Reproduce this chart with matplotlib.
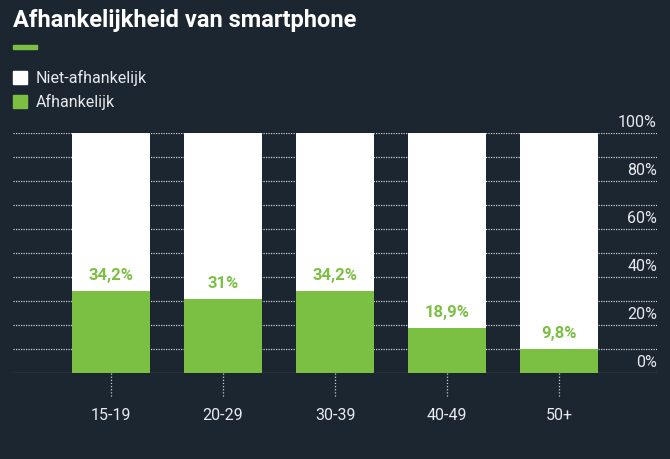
import matplotlib.pyplot as plt
from matplotlib.patches import Patch, Rectangle

# data
categories = ['15-19', '20-29', '30-39', '40-49', '50+']
afhankelijk = [34.2, 31.0, 34.2, 18.9, 9.8]
value_labels = ['34,2%', '31%', '34,2%', '18,9%', '9,8%']
grid_levels = [0, 10, 20, 30, 40, 50, 60, 70, 80, 90, 100]
axis_labels = [0, 20, 40, 60, 80, 100]

BG = '#1c2631'
GREEN = '#7bc043'
WHITE = '#ffffff'
TEXT = '#e8eaec'

plt.rcParams['font.family'] = ['Roboto', 'DejaVu Sans']

fig = plt.figure(figsize=(6.7, 4.59), dpi=100)
fig.patch.set_facecolor(BG)

W, H = 670, 459
ax = fig.add_axes([13 / W, 1 - 373 / H, (657 - 13) / W, (373 - 133) / H])
ax.set_facecolor(BG)

x = list(range(len(categories)))
niet = [100 - v for v in afhankelijk]

# dotted grid lines behind the bars
ax.hlines(grid_levels, -0.875, 4.875, colors='#c9ced3', linestyles=(0, (1, 1)),
          linewidth=0.9, zorder=1)

ax.bar(x, afhankelijk, width=0.7, color=GREEN, zorder=2)
ax.bar(x, niet, bottom=afhankelijk, width=0.7, color=WHITE, zorder=2)

for xi, v, lab in zip(x, afhankelijk, value_labels):
    ax.text(xi, v + 6.5, lab, ha='center', va='center', color=GREEN,
            fontsize=12, fontweight='bold', zorder=3)

for lv in axis_labels:
    ax.text(4.875, lv + 4.4, f'{lv}%', ha='right', va='center', color=TEXT,
            fontsize=11.5)

# dotted tick marks under the bars
ax.vlines(x, 0, -10, colors='#c9ced3', linestyles=(0, (1, 1.5)),
          linewidth=0.9, clip_on=False)
for xi, cat in zip(x, categories):
    ax.text(xi, -17.5, cat, ha='center', va='center', color=TEXT, fontsize=11.5,
            clip_on=False)

ax.set_xlim(-0.875, 4.875)
ax.set_ylim(0, 100)
ax.axis('off')

# title and accent line
fig.text(13 / W, 1 - 21 / H, 'Afhankelijkheid van smartphone', color=WHITE,
         fontsize=17, fontweight='bold', ha='left', va='center')
fig.add_artist(Rectangle((13 / W, 1 - 49 / H), 24 / W, 4 / H,
                         transform=fig.transFigure, color=GREEN))

handles = [Patch(color=WHITE, label='Niet-afhankelijk'),
           Patch(color=GREEN, label='Afhankelijk')]
leg = fig.legend(handles=handles, loc='upper left',
                 bbox_to_anchor=(13 / W, 1 - 70 / H), frameon=False,
                 borderpad=0, borderaxespad=0,
                 handlelength=0.85, handleheight=0.85, handletextpad=0.55,
                 labelspacing=0.5, fontsize=11.5)
for t in leg.get_texts():
    t.set_color(TEXT)

fig.savefig('out.png', dpi=100, facecolor=BG)
